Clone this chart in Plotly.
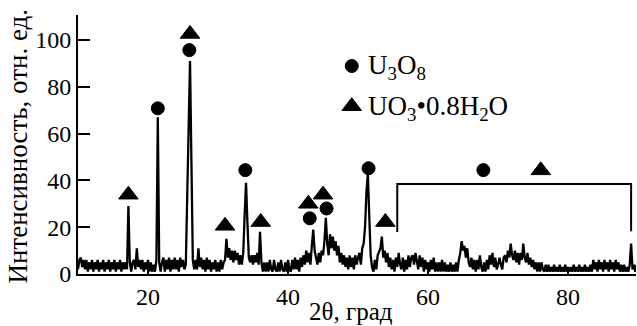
import plotly.graph_objects as go

# Intensity, 2theta grid 10.0 .. 90.0 step 0.2 (one row = 5 degrees)
intensity = (
    [2, 6, 7, 3, 6, 2, 6, 1, 5, 2, 6, 1, 5, 2, 6, 1, 5, 2, 6, 1, 5, 2, 6, 1, 5]           # 10-15
    + [2, 6, 1, 5, 2, 6, 1, 5, 2, 5, 2, 29, 5, 1, 5, 6, 2, 11, 3, 6, 2, 6, 1, 5, 2]      # 15-20
    + [6, 1, 5, 1, 4, 1, 6, 67, 5, 1, 5, 7, 1, 6, 2, 7, 1, 6, 2, 7, 2, 6, 1, 7, 3]       # 20-25
    + [6, 2, 4, 33, 62, 91, 48, 6, 2, 6, 2, 11, 3, 7, 2, 6, 1, 7, 2, 6, 1, 5, 2, 6, 1]   # 25-30
    + [5, 1, 6, 2, 5, 6, 15, 7, 11, 6, 10, 5, 10, 6, 9, 4, 8, 4, 9, 25, 39, 22, 7, 5, 8] # 30-35
    + [4, 8, 5, 9, 4, 18, 5, 1, 5, 1, 5, 1, 6, 2, 1, 6, 2, 1, 5, 1, 6, 2, 1, 5, 1]       # 35-40
    + [6, 2, 1, 6, 2, 7, 2, 6, 1, 7, 3, 8, 4, 10, 5, 9, 4, 12, 19, 10, 6, 4, 9, 5, 10]   # 40-45
    + [8, 14, 24, 13, 8, 17, 11, 16, 10, 14, 8, 12, 5, 9, 4, 8, 3, 7, 2, 8, 3, 7, 2, 8, 4]  # 45-50
    + [7, 9, 4, 11, 13, 20, 35, 43, 25, 8, 3, 1, 6, 2, 8, 10, 11, 16, 7, 10, 5, 9, 3, 7, 2]  # 50-55
    + [6, 1, 7, 3, 9, 4, 2, 7, 1, 6, 2, 8, 3, 7, 8, 4, 9, 5, 2, 8, 3, 7, 1, 6, 2]        # 55-60
    + [5, 1, 6, 2, 7, 1, 5, 1, 5, 1, 6, 1, 5, 1, 4, 1, 5, 1, 4, 1, 5, 1, 6, 9, 14]       # 60-65
    + [10, 12, 7, 11, 5, 3, 7, 2, 6, 1, 6, 2, 8, 3, 1, 5, 1, 6, 2, 8, 4, 9, 3, 7, 2]     # 65-70
    + [4, 7, 4, 2, 7, 8, 5, 10, 7, 13, 8, 6, 10, 5, 9, 4, 9, 6, 13, 7, 5, 9, 4, 7, 3]    # 70-75
    + [6, 2, 5, 1, 5, 1, 5, 2, 1, 4, 1, 4, 1, 3, 1, 4, 1, 3, 1, 4, 1, 3, 1, 4, 1]        # 75-80
    + [3, 1, 3, 1, 4, 1, 3, 1, 4, 1, 3, 1, 4, 1, 3, 1, 4, 1, 6, 2, 5, 1, 6, 2, 5]        # 80-85
    + [1, 6, 2, 5, 1, 6, 2, 5, 1, 6, 2, 5, 1, 4, 1, 4, 1, 3, 1, 4, 13, 2, 4, 1, 4]       # 85-90
    + [3]
)
two_theta = [round(10 + 0.2 * i, 1) for i in range(len(intensity))]

# Phase assignments (peak markers)
u3o8_x = [21.4, 25.9, 33.9, 43.1, 45.5, 51.5, 67.9]
u3o8_y = [70.8, 95.7, 44.4, 23.8, 28.0, 45.2, 44.4]
uo3_x = [17.2, 26.0, 31.0, 36.1, 42.9, 45.0, 53.9, 76.1]
uo3_y = [33.9, 102.6, 20.6, 22.2, 30.0, 33.9, 22.2, 44.3]
bracket_x = [55.6, 55.6, 89.0, 89.0]
bracket_y = [18.0, 38.5, 38.5, 18.3]

legend_labels = ["U<sub>3</sub>O<sub>8</sub>", "UO<sub>3</sub>•0.8H<sub>2</sub>O"]
x_ticks = [20, 40, 60, 80]
y_ticks = [0, 20, 40, 60, 80, 100]

FONT = "Liberation Serif"

fig = go.Figure()
fig.add_trace(go.Scatter(x=two_theta, y=intensity, mode="lines",
                         line=dict(color="black", width=2.3), hoverinfo="skip"))
fig.add_trace(go.Scatter(x=bracket_x, y=bracket_y, mode="lines",
                         line=dict(color="black", width=2)))
fig.add_trace(go.Scatter(x=u3o8_x, y=u3o8_y, mode="markers", cliponaxis=False,
                         marker=dict(symbol="circle", size=13, color="black",
                                     line=dict(color="black", width=1))))
fig.add_trace(go.Scatter(x=uo3_x, y=uo3_y, mode="markers", cliponaxis=False,
                         marker=dict(symbol="triangle-up", size=17, color="black",
                                     line=dict(color="black", width=1))))
# legend symbols
fig.add_trace(go.Scatter(x=[49.1], y=[88.9], mode="markers", cliponaxis=False,
                         marker=dict(symbol="circle", size=13, color="black",
                                     line=dict(color="black", width=1))))
fig.add_trace(go.Scatter(x=[49.1], y=[71.7], mode="markers", cliponaxis=False,
                         marker=dict(symbol="triangle-up", size=17, color="black",
                                     line=dict(color="black", width=1))))

fig.add_annotation(x=51.2, y=88.6, xref="x", yref="y", text=legend_labels[0],
                   showarrow=False, xanchor="left", yanchor="middle",
                   font=dict(family=FONT, size=27, color="black"))
fig.add_annotation(x=51.2, y=71.0, xref="x", yref="y", text=legend_labels[1],
                   showarrow=False, xanchor="left", yanchor="middle",
                   font=dict(family=FONT, size=27, color="black"))

fig.add_annotation(x=-0.1075, y=0.492, xref="paper", yref="paper",
                   text="Интенсивность, отн. ед.", textangle=-90, showarrow=False,
                   xanchor="center", yanchor="middle",
                   font=dict(family=FONT, size=27, color="black"))
fig.add_annotation(x=0.49, y=-0.143, xref="paper", yref="paper",
                   text="2θ, град", showarrow=False,
                   xanchor="center", yanchor="middle",
                   font=dict(family=FONT, size=25, color="black"))

fig.update_layout(
    width=637, height=326,
    margin=dict(l=78, r=1, t=15, b=52),
    paper_bgcolor="white", plot_bgcolor="white",
    showlegend=False,
    font=dict(family=FONT, size=24, color="black"),
    xaxis=dict(range=[10, 89.7], tickvals=x_ticks, ticks="inside", ticklen=6,
               tickwidth=2, tickcolor="black", showline=True, linewidth=2,
               linecolor="black", showgrid=False, zeroline=False,
               tickfont=dict(family=FONT, size=24, color="black")),
    yaxis=dict(range=[0, 110.7], tickvals=y_ticks, ticks="inside", ticklen=12,
               tickwidth=2, tickcolor="black", showline=True, linewidth=2,
               linecolor="black", showgrid=False, zeroline=False,
               tickfont=dict(family=FONT, size=24, color="black")),
)

fig.write_html("out.html",
               config={"displayModeBar": False},
               post_script="document.body.style.margin='0';"
                           "document.body.style.overflow='hidden';")
